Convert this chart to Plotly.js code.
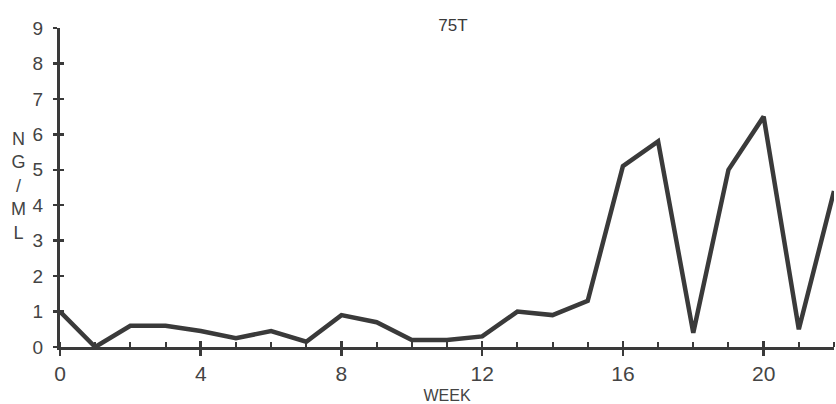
<!DOCTYPE html>
<html>
<head>
<meta charset="utf-8">
<script src="https://cdn.plot.ly/plotly-3.0.1.min.js"></script>
<style>html,body{margin:0;padding:0;background:#fff;}#chart{width:836px;height:404px;}</style>
</head>
<body>
<div id="chart"></div>
<script>
const weeks = [0,1,2,3,4,5,6,7,8,9,10,11,12,13,14,15,16,17,18,19,20,21,22];
const ngml  = [1.0,0.0,0.6,0.6,0.45,0.25,0.45,0.15,0.9,0.7,0.2,0.2,0.3,1.0,0.9,1.3,5.1,5.8,0.4,5.0,6.5,0.5,4.4];
const chartTitle = '75T';
const xTitle = 'WEEK';
const yTitleLetters = ['N','G','/','M','L'];
const xTickVals = [0,4,8,12,16,20];
const yTickVals = [0,1,2,3,4,5,6,7,8,9];

const ink = '#3a3a3a';
const fontFam = 'Liberation Sans, Arial, sans-serif';

const traces = [
  {x: weeks, y: ngml, type: 'scatter', mode: 'lines',
   line: {color: ink, width: 4.5}, hoverinfo: 'skip', cliponaxis: false},
  {x: [0], y: [0], xaxis: 'x2', yaxis: 'y2', type: 'scatter', mode: 'markers',
   marker: {opacity: 0}, hoverinfo: 'skip', showlegend: false}
];

const layout = {
  width: 836, height: 404,
  margin: {l: 60, r: 2, t: 28, b: 57},
  paper_bgcolor: '#ffffff', plot_bgcolor: '#ffffff',
  showlegend: false,
  font: {family: fontFam, color: ink},
  title: {text: chartTitle, x: 453/836, xanchor: 'center', y: 1 - 25/404, yanchor: 'middle',
          font: {size: 17, color: ink, family: fontFam}},
  xaxis: {
    range: [0, 22], showgrid: false, zeroline: false,
    showline: true, linecolor: ink, linewidth: 3,
    tickmode: 'array', tickvals: xTickVals, ticktext: xTickVals.map(String),
    ticks: 'outside', ticklen: 6, tickwidth: 2.5, tickcolor: ink,
    minor: {dtick: 1, ticks: 'inside', ticklen: 5, tickwidth: 2, tickcolor: ink, showgrid: false},
    tickfont: {size: 21, color: '#444', family: fontFam},
    title: {text: xTitle, font: {size: 16, color: '#444', family: fontFam}, standoff: 6}
  },
  yaxis: {
    range: [0, 9], showgrid: false, zeroline: false,
    showline: true, linecolor: ink, linewidth: 3,
    tickmode: 'array', tickvals: yTickVals, ticktext: yTickVals.map(String),
    ticks: 'outside', ticklen: 4, tickwidth: 2.5, tickcolor: ink,
    ticklabelstandoff: 6,
    tickfont: {size: 19, color: '#444', family: fontFam}
  },
  xaxis2: {
    overlaying: 'x', range: [0, 22], showgrid: false, zeroline: false, showline: false,
    tickmode: 'array', tickvals: xTickVals, showticklabels: false,
    ticks: 'inside', ticklen: 6, tickwidth: 2.5, tickcolor: ink, side: 'bottom'
  },
  yaxis2: {
    overlaying: 'y', range: [0, 9], showgrid: false, zeroline: false, showline: false,
    tickmode: 'array', tickvals: yTickVals, showticklabels: false,
    ticks: 'inside', ticklen: 4, tickwidth: 2.5, tickcolor: ink, side: 'left'
  },
  annotations: [{
    text: yTitleLetters.join('<br>'), xref: 'paper', yref: 'paper',
    x: -42/774, y: 0.505, xanchor: 'center', yanchor: 'middle', showarrow: false,
    font: {size: 18, color: '#444', family: fontFam}, align: 'center'
  }]
};

Plotly.newPlot('chart', traces, layout, {displayModeBar: false, staticPlot: true});
</script>
</body>
</html>
